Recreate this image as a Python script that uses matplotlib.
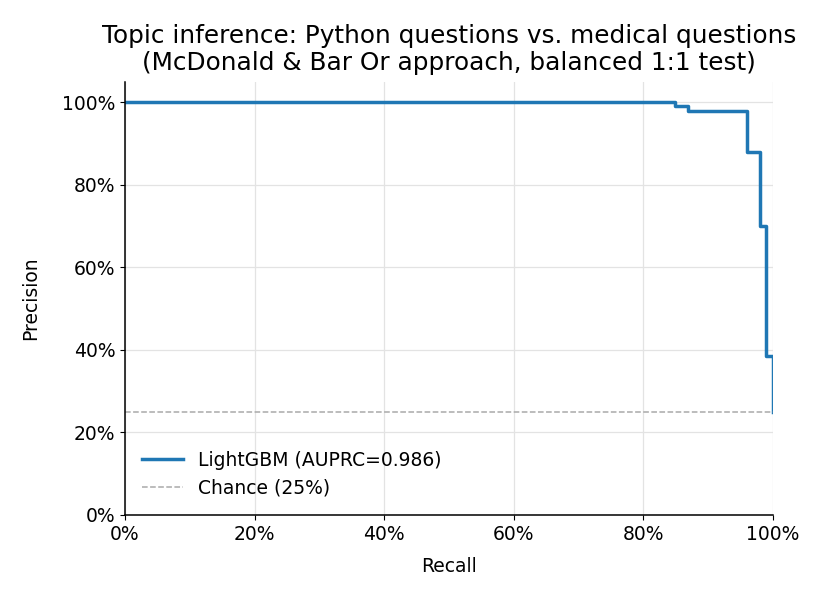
import matplotlib
matplotlib.use("Agg")
import matplotlib.pyplot as plt
from matplotlib.ticker import PercentFormatter

recall = [0.0, 0.85, 0.87, 0.96, 0.98, 0.99, 1.0]
precision = [1.0, 0.99, 0.978, 0.88, 0.70, 0.385, 0.25]
chance = 0.25
auprc = 0.986

fig = plt.figure(figsize=(8.25, 6), dpi=100)
ax = fig.add_axes([0.1515, 0.142, 0.785, 0.722])
ax.step(recall, precision, where="post", color="#1f77b4", lw=2.5,
        label=f"LightGBM (AUPRC={auprc:.3f})")
ax.axhline(chance, color="#aaaaaa", lw=1.1, ls="--", label="Chance (25%)")
ax.set_xlim(0, 1)
ax.set_ylim(0, 1.05)
ax.xaxis.set_major_formatter(PercentFormatter(1.0, decimals=0))
ax.yaxis.set_major_formatter(PercentFormatter(1.0, decimals=0))
ax.set_xticks([0, 0.2, 0.4, 0.6, 0.8, 1.0])
ax.set_yticks([0, 0.2, 0.4, 0.6, 0.8, 1.0])
ax.grid(True, color="#e3e3e3", lw=0.9)
ax.set_axisbelow(True)
for s in ["top", "right"]:
    ax.spines[s].set_visible(False)
ax.spines["left"].set_linewidth(1.1)
ax.spines["bottom"].set_linewidth(1.1)
ax.tick_params(labelsize=13.5)
ax.set_xlabel("Recall", fontsize=13.5, labelpad=10)
ax.set_ylabel("Precision", fontsize=13.5, labelpad=16)
ax.set_title("Topic inference: Python questions vs. medical questions\n(McDonald & Bar Or approach, balanced 1:1 test)", fontsize=17.8, pad=8)
ax.legend(loc="lower left", frameon=False, fontsize=13.5, bbox_to_anchor=(0.0, 0.0),
          handlelength=2.2)
fig.savefig("out.png", dpi=100)
